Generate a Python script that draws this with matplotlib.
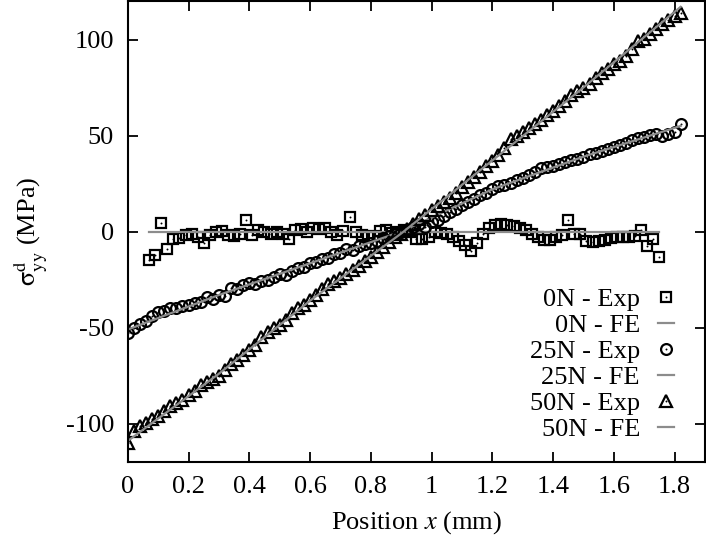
import matplotlib
matplotlib.use("Agg")
import matplotlib.pyplot as plt

plt.rcParams["font.family"] = ["Liberation Serif", "DejaVu Serif"]
plt.rcParams["mathtext.fontset"] = "stix"
plt.rcParams["axes.unicode_minus"] = False

# 0N experimental
X_0N = [0.07, 0.09, 0.11, 0.13, 0.15, 0.17, 0.19, 0.21, 0.23, 0.25,
        0.27, 0.29, 0.31, 0.33, 0.35, 0.37, 0.39, 0.41, 0.43, 0.45,
        0.47, 0.49, 0.51, 0.53, 0.55, 0.57, 0.59, 0.61, 0.63, 0.65,
        0.67, 0.69, 0.71, 0.73, 0.75, 0.77, 0.79, 0.81, 0.83, 0.85,
        0.87, 0.89, 0.91, 0.93, 0.95, 0.97, 0.99, 1.01, 1.03, 1.05,
        1.07, 1.09, 1.11, 1.13, 1.15, 1.17, 1.19, 1.21, 1.23, 1.25,
        1.27, 1.29, 1.31, 1.33, 1.35, 1.37, 1.39, 1.41, 1.43, 1.45,
        1.47, 1.49, 1.51, 1.53, 1.55, 1.57, 1.59, 1.61, 1.63, 1.65,
        1.67, 1.69, 1.71, 1.73, 1.75]
Y_0N = [-15, -12, 4.5, -9, -4, -3.5, -2, -1, -3, -6,
        -2, 0, 0.5, -2, -2.5, -1, 6, -2, 1, 0,
        -1, 0, -1.5, -4, 1, 1.5, 0, 2, 1.5, 2,
        0, -2, 0.5, 7.5, 0, -2, -3, -2.5, 0.5, 1,
        -0.5, 0, 1, 0, -4, -4, -3, 0, -0.5, -1,
        -3, -5, -7, -10, -6, -1, 2, 3.5, 4, 3.5,
        3, 2, 1, -1, -3, -4.5, -4.5, -3, -2, 6,
        -1, -1.5, -5, -5.5, -5, -4.5, -3.5, -3, -3, -3,
        -2.5, 1, -7.5, -4, -13]

# 25N / 50N experimental share the same positions
X_EXP = [0.00, 0.02, 0.04, 0.06, 0.08, 0.10, 0.12, 0.14, 0.16, 0.18,
         0.20, 0.22, 0.24, 0.26, 0.28, 0.30, 0.32, 0.34, 0.36, 0.38,
         0.40, 0.42, 0.44, 0.46, 0.48, 0.50, 0.52, 0.54, 0.56, 0.58,
         0.60, 0.62, 0.64, 0.66, 0.68, 0.70, 0.72, 0.74, 0.76, 0.78,
         0.80, 0.82, 0.84, 0.86, 0.88, 0.90, 0.92, 0.94, 0.96, 0.98,
         1.00, 1.02, 1.04, 1.06, 1.08, 1.10, 1.12, 1.14, 1.16, 1.18,
         1.20, 1.22, 1.24, 1.26, 1.28, 1.30, 1.32, 1.34, 1.36, 1.38,
         1.40, 1.42, 1.44, 1.46, 1.48, 1.50, 1.52, 1.54, 1.56, 1.58,
         1.60, 1.62, 1.64, 1.66, 1.68, 1.70, 1.72, 1.74, 1.76, 1.78,
         1.80, 1.82]
Y_25N = [-53, -50, -48, -46.5, -44, -42, -41.5, -40, -40, -38.5,
         -38, -37, -36.5, -34, -35, -33, -33.5, -29.5, -30, -28,
         -27, -27.5, -25.5, -25, -23.5, -22, -22.5, -20.5, -19, -18.5,
         -16.5, -16, -14.5, -13.5, -11.5, -11, -9, -9.5, -7.5, -6.5,
         -6, -5, -3.5, -2.5, -1.5, 0, 1, 2.5, 4, 2.5,
         5, 6, 8, 10, 12, 14, 15.5, 17, 19, 20,
         22, 23.5, 24, 25.5, 27, 28, 29.5, 31, 33, 33.5,
         34, 35, 36, 37.5, 38, 39, 40.5, 41, 42, 43,
         44, 45, 46, 47.5, 48.5, 49.5, 50.5, 51, 50, 51,
         52, 56]
Y_50N = [-110, -104, -101, -99.5, -97.5, -96, -93.5, -91, -89, -87.5,
         -85, -83, -80, -78.5, -76.5, -75, -72, -69, -67, -64,
         -61.5, -59, -55, -52.5, -50, -48.5, -46, -42.5, -40, -38,
         -35.5, -33, -30, -27.5, -25.5, -24, -22, -20, -18, -15.5,
         -13, -10.5, -8, -5.5, -3, -1, 1.5, 4, 6.5, 8.5,
         11, 13.5, 15.5, 17.5, 20, 23, 26, 28.5, 31, 34,
         37, 40, 43.5, 48, 50, 52, 54, 56, 58, 60.5,
         63, 65.5, 68, 71, 73, 75, 77, 80, 82.5, 84.5,
         87, 89, 91.5, 95, 99, 100.5, 103, 105.5, 108, 110,
         112, 114]

# FE curves
X_FE0 = [0.07, 1.75]
Y_FE0 = [0, 0]
X_FE25 = [0.0, 0.3, 0.6, 0.9, 1.2, 1.5, 1.82]
Y_FE25 = [-51, -33, -16.5, 0, 22, 39, 55]
X_FE50 = [0.0, 0.3, 0.6, 0.9, 1.2, 1.5, 1.82]
Y_FE50 = [-109, -74, -36, -1, 37, 75, 117]

GRAY = "#8c8c8c"
fig = plt.figure(figsize=(7.06, 5.43), dpi=100)
ax = fig.add_axes([0.181, 0.149, 0.8175, 0.849])

mk = dict(ls="none", mfc="none", mec="black", mew=1.6)
dot = dict(ls="none", marker="o", ms=1.4, mfc="black", mec="black", mew=0)

handles = []
for xs, ys, m, ms, fx, fy in [(X_0N, Y_0N, "s", 7.8, X_FE0, Y_FE0),
                              (X_EXP, Y_25N, "o", 7.8, X_FE25, Y_FE25),
                              (X_EXP, Y_50N, "^", 8.5, X_FE50, Y_FE50)]:
    h1, = ax.plot(xs, ys, marker=m, ms=ms, **mk)
    h2, = ax.plot(xs, ys, **dot)
    h3, = ax.plot(fx, fy, color=GRAY, lw=1.6)
    handles += [(h1, h2), h3]

labels = ["0N - Exp", "0N - FE", "25N - Exp", "25N - FE", "50N - Exp", "50N - FE"]
ax.legend(handles, labels, loc="lower right", bbox_to_anchor=(0.965, 0.022),
          frameon=False, markerfirst=False, fontsize=19, labelspacing=0.1,
          handlelength=0.6, handletextpad=0.7, borderaxespad=0)

ax.set_xlim(0, 1.9)
ax.set_ylim(-120, 120)
ax.set_xticks([0, 0.2, 0.4, 0.6, 0.8, 1, 1.2, 1.4, 1.6, 1.8])
ax.set_xticklabels(["0", "0.2", "0.4", "0.6", "0.8", "1", "1.2", "1.4", "1.6", "1.8"])
ax.set_yticks([-100, -50, 0, 50, 100])
ax.tick_params(direction="in", length=7.5, width=1.3, top=True, right=True,
               labelsize=19, pad=10)
for sp in ax.spines.values():
    sp.set_linewidth(1.5)

ax.set_xlabel("Position $x$ (mm)", fontsize=19, labelpad=8)
ax.set_ylabel(r"$\mathrm{\sigma}^{\mathrm{d}}_{\mathrm{yy}}$ (MPa)", fontsize=19, labelpad=12)

fig.savefig("out.png", dpi=100)
